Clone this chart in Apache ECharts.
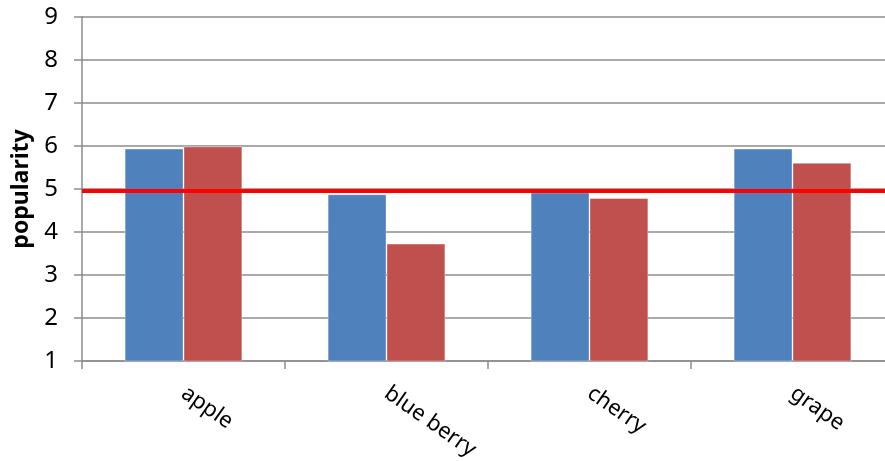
<!DOCTYPE html>
<html>
<head>
<meta charset="utf-8">
<script src="https://cdn.jsdelivr.net/npm/echarts@6/dist/echarts.min.js"></script>
<style>
  html, body { margin: 0; padding: 0; background: #fff; overflow: hidden; }
  #chart { width: 885px; height: 461px; }
</style>
</head>
<body>
<div id="chart"></div>
<script>
// Fruit popularity, two rating series per fruit, with a reference level
const categories = ['apple', 'blue berry', 'cherry', 'grape'];
const seriesA = [5.94, 4.88, 4.92, 5.94];
const seriesB = [5.99, 3.73, 4.79, 5.61];
const referenceLevel = 4.96;
const yTicks = { min: 1, max: 9, interval: 1 };

const font = 'Noto Sans, Liberation Sans, sans-serif';
const gridColor = '#8c8c8c';

const chart = echarts.init(document.getElementById('chart'), null, { renderer: 'canvas' });
chart.setOption({
  animation: false,
  backgroundColor: '#ffffff',
  // the plot runs slightly past the right edge of the canvas
  grid: {
    left: 82, width: 812, top: 17, bottom: 100,
    containLabel: false,
    outerBoundsMode: 'none'
  },
  xAxis: {
    type: 'category',
    data: categories,
    axisLine: { lineStyle: { color: gridColor, width: 1.5 } },
    axisTick: { show: true, length: 8, lineStyle: { color: gridColor, width: 1.5 } },
    axisLabel: {
      rotate: -35,
      margin: 30,
      color: '#000',
      fontSize: 22,
      fontFamily: font
    }
  },
  yAxis: {
    type: 'value',
    min: yTicks.min,
    max: yTicks.max,
    interval: yTicks.interval,
    name: 'popularity',
    nameLocation: 'middle',
    nameGap: 47,
    nameTextStyle: { fontSize: 23, fontWeight: 'bold', color: '#000', fontFamily: font },
    axisLine: { show: true, lineStyle: { color: gridColor, width: 1.5 } },
    axisTick: { show: true, length: 8, lineStyle: { color: gridColor, width: 1.5 } },
    axisLabel: { margin: 24, color: '#000', fontSize: 24, fontFamily: font },
    splitLine: { lineStyle: { color: gridColor, width: 1.5 } }
  },
  series: [
    {
      name: 'A',
      type: 'bar',
      data: seriesA,
      barGap: '0%',
      barCategoryGap: '42%',
      itemStyle: { color: '#4f81bd', borderColor: 'rgba(255,255,255,0.35)', borderWidth: 1 },
      markLine: {
        silent: true,
        symbol: 'none',
        label: { show: false },
        lineStyle: { color: '#ff0000', width: 4, type: 'solid' },
        data: [{ yAxis: referenceLevel }]
      },
      z: 2
    },
    {
      name: 'B',
      type: 'bar',
      data: seriesB,
      itemStyle: { color: '#c0504d', borderColor: 'rgba(255,255,255,0.35)', borderWidth: 1 },
      z: 2
    }
  ]
});
</script>
</body>
</html>
